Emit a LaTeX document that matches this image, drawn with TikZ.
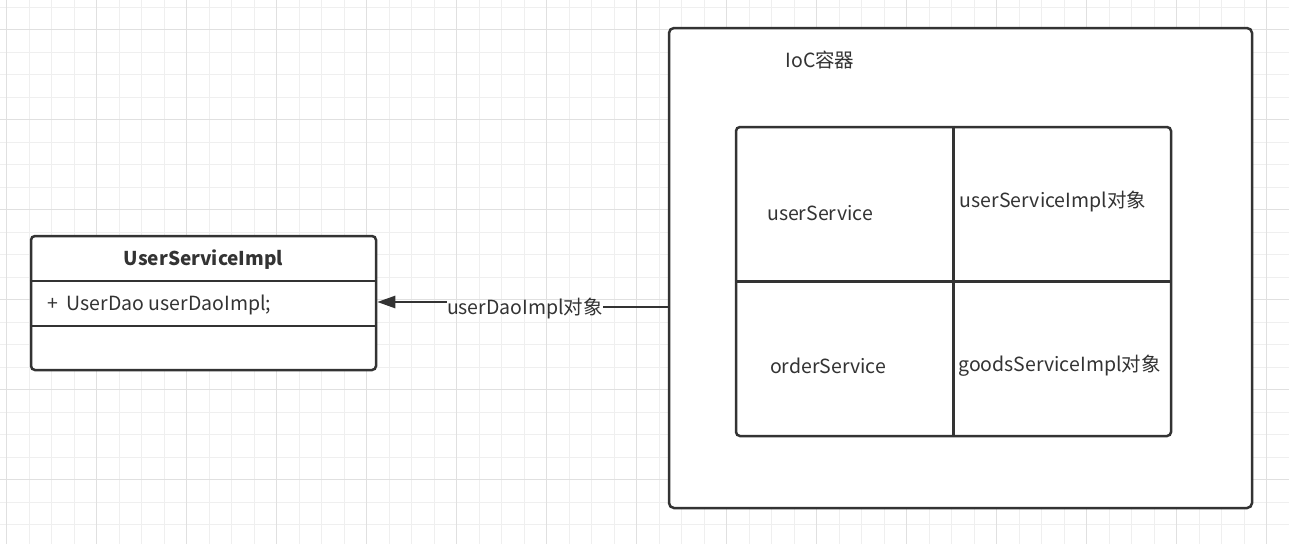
\documentclass[tikz,border=0pt]{standalone}
\usepackage{fontspec}
\setmainfont{Noto Sans CJK SC}
\usetikzlibrary{arrows.meta}
\definecolor{ink}{HTML}{333333}
\definecolor{gridminor}{HTML}{EFEFEF}
\definecolor{gridmajor}{HTML}{E0E0E0}
\begin{document}
\begin{tikzpicture}[x=1pt,y=-1pt,
  box/.style={draw=ink, line width=2.5pt, rounded corners=4pt, fill=white, inner sep=0pt},
  divider/.style={draw=ink, line width=2.5pt},
  txt/.style={text=ink, font=\fontsize{19.5}{23}\selectfont, inner sep=0pt},
  arrowline/.style={draw=ink, line width=2.5pt},
  tip/.style={-{Triangle[length=18pt,width=12pt]}}
]
\useasboundingbox (0,0) rectangle (1289,544);
\fill[white] (0,0) rectangle (1289,544);
% background grid
\foreach \i in {0,...,57} {
  \draw[gridminor, line width=1.2pt] ({6.7+22.5*\i},0) -- ({6.7+22.5*\i},544);
}
\foreach \j in {0,...,24} {
  \draw[gridminor, line width=1.2pt] (0,{7.2+22.5*\j}) -- (1289,{7.2+22.5*\j});
}
\foreach \i in {0,...,14} {
  \draw[gridmajor, line width=1.2pt] ({6.7+90*\i},0) -- ({6.7+90*\i},544);
}
\foreach \j in {0,...,6} {
  \draw[gridmajor, line width=1.2pt] (0,{29.7+90*\j}) -- (1289,{29.7+90*\j});
}

% class box
\node[box, minimum width=345pt, minimum height=134pt] (cls) at (203.5,303) {};
\draw[divider] (cls.west |- 0,281) -- (cls.east |- 0,281);
\draw[divider] (cls.west |- 0,326) -- (cls.east |- 0,326);
\node[txt, font=\fontsize{19}{23}\selectfont\bfseries] (clsname) at (203.5,260) {UserServiceImpl};
\node[txt, anchor=west] (field) at (47,305) {+\hspace{0.45em}UserDao userDaoImpl;};

% container
\node[box, rounded corners=5pt, minimum width=583pt, minimum height=480pt] (ioc) at (960.5,268) {};
\node[txt] (ioctitle) at (820,60) {IoC容器};

% table of beans
\node[box, minimum width=435pt, minimum height=309pt] (tbl) at (953.5,281.5) {};
\draw[divider] (tbl.north -| 953.5,0) -- (tbl.south -| 953.5,0);
\draw[divider] (tbl.west |- 0,281.5) -- (tbl.east |- 0,281.5);
\node[txt] (k1) at (820,213) {userService};
\node[txt] (v1) at (1053,201) {userServiceImpl对象};
\node[txt] (k2) at (828,366) {orderService};
\node[txt] (v2) at (1059.5,366) {goodsServiceImpl对象};

% injection arrow
\node[txt] (lbl) at (525,308) {userDaoImpl对象};
\draw[arrowline] (ioc.west |- 0,307) -- (lbl.east |- 0,307);
\draw[arrowline, tip] (lbl.west |- 0,302) -- (cls.east |- 0,302);
\end{tikzpicture}
\end{document}
